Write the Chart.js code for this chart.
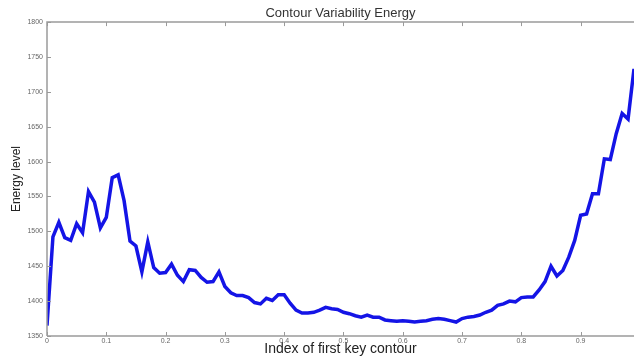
<!DOCTYPE html>
<html>
<head>
<meta charset="utf-8">
<script src="https://cdn.jsdelivr.net/npm/chart.js@4/dist/chart.umd.min.js"></script>
<style>
  html, body { margin: 0; padding: 0; background: #fff; }
  #wrap { width: 634px; height: 356px; }
</style>
</head>
<body>
<div id="wrap"><canvas id="energyChart" width="634" height="356"></canvas></div>
<script>
// Index of first key contour (x) and energy level (y)
let contourIndex = [
    0.00, 0.01, 0.02, 0.03, 0.04, 0.05, 0.06, 0.07, 0.08, 0.09,
    0.10, 0.11, 0.12, 0.13, 0.14, 0.15, 0.16, 0.17, 0.18, 0.19,
    0.20, 0.21, 0.22, 0.23, 0.24, 0.25, 0.26, 0.27, 0.28, 0.29,
    0.30, 0.31, 0.32, 0.33, 0.34, 0.35, 0.36, 0.37, 0.38, 0.39,
    0.40, 0.41, 0.42, 0.43, 0.44, 0.45, 0.46, 0.47, 0.48, 0.49,
    0.50, 0.51, 0.52, 0.53, 0.54, 0.55, 0.56, 0.57, 0.58, 0.59,
    0.60, 0.61, 0.62, 0.63, 0.64, 0.65, 0.66, 0.67, 0.68, 0.69,
    0.70, 0.71, 0.72, 0.73, 0.74, 0.75, 0.76, 0.77, 0.78, 0.79,
    0.80, 0.81, 0.82, 0.83, 0.84, 0.85, 0.86, 0.87, 0.88, 0.89,
    0.90, 0.91, 0.92, 0.93, 0.94, 0.95, 0.96, 0.97, 0.98, 0.99
];
let energyLevel = [
    1365, 1492, 1513, 1491, 1487, 1511, 1498, 1557, 1542, 1505,
    1520, 1577, 1581, 1544, 1486, 1479, 1442, 1485, 1448, 1440,
    1441, 1453, 1437, 1428, 1445, 1444, 1434, 1427, 1428, 1442,
    1421, 1412, 1408, 1408, 1405, 1398, 1396, 1404, 1401, 1409,
    1409, 1397, 1387, 1383, 1383, 1384, 1387, 1391, 1389, 1388,
    1384, 1382, 1379, 1377, 1380, 1377, 1377, 1373, 1372, 1371,
    1372, 1371, 1370, 1371, 1372, 1374, 1375, 1374, 1372, 1370,
    1375, 1377, 1378, 1380, 1384, 1387, 1394, 1396, 1400, 1399,
    1405, 1406, 1406, 1416, 1428, 1450, 1436, 1444, 1463, 1487,
    1523, 1525, 1554, 1554, 1604, 1603, 1640, 1669, 1661, 1733
];
let xTickValues = [0, 0.1, 0.2, 0.3, 0.4, 0.5, 0.6, 0.7, 0.8, 0.9];
let yTickValues = [1350, 1400, 1450, 1500, 1550, 1600, 1650, 1700, 1750, 1800];

let axisColor = '#9a9a9a';

// MATLAB style box with inward tick marks
let inwardTicks = {
    id: 'inwardTicks',
    afterDraw(chart) {
        let ctx = chart.ctx;
        let area = chart.chartArea;
        let xs = chart.scales.x;
        let ys = chart.scales.y;
        ctx.save();
        ctx.strokeStyle = axisColor;
        ctx.lineWidth = 1.5;
        ctx.beginPath();
        ctx.moveTo(area.left, area.bottom);
        ctx.lineTo(area.left, area.top);
        ctx.lineTo(area.right, area.top);
        ctx.moveTo(area.left, area.bottom);
        ctx.lineTo(area.right, area.bottom);
        ctx.stroke();
        ctx.lineWidth = 1;
        ctx.beginPath();
        xTickValues.forEach(v => {
            let px = Math.round(xs.getPixelForValue(v)) + 0.5;
            ctx.moveTo(px, area.bottom);
            ctx.lineTo(px, area.bottom - 4);
            ctx.moveTo(px, area.top);
            ctx.lineTo(px, area.top + 4);
        });
        yTickValues.forEach(v => {
            let py = Math.round(ys.getPixelForValue(v)) + 0.5;
            ctx.moveTo(area.left, py);
            ctx.lineTo(area.left + 4, py);
        });
        ctx.stroke();
        ctx.restore();
    }
};

let chartData = {
    type: 'line',
    data: {
        datasets: [
            {
                label: 'Energy',
                data: contourIndex.map((x, i) => ({ x: x, y: energyLevel[i] })),
                borderColor: '#1414e6',
                borderWidth: 3.5,
                pointRadius: 0,
                tension: 0,
                fill: false
            }
        ]
    },
    options: {
        responsive: false,
        animation: false,
        layout: { padding: 0 },
        plugins: {
            legend: { display: false },
            tooltip: { enabled: false },
            title: {
                display: true,
                fullSize: false,
                text: 'Contour Variability Energy',
                color: '#333',
                font: { family: 'Liberation Sans', size: 13, weight: 'normal' },
                padding: { top: 6, bottom: 0.5 }
            }
        },
        scales: {
            x: {
                type: 'linear',
                min: 0,
                max: 0.99,
                afterBuildTicks: s => { s.ticks = xTickValues.map(v => ({ value: v })); },
                afterFit: s => { s.height = 20; },
                grid: { display: false, drawTicks: false },
                border: { display: false },
                ticks: {
                    padding: 1,
                    color: '#666',
                    font: { family: 'Liberation Sans', size: 7 },
                    maxRotation: 0,
                    callback: v => String(v)
                },
                title: {
                    display: true,
                    text: 'Index of first key contour',
                    color: '#222',
                    font: { family: 'Liberation Sans', size: 14, lineHeight: 1 },
                    padding: { top: 0, bottom: 0 }
                }
            },
            y: {
                min: 1350,
                max: 1800,
                afterBuildTicks: s => { s.ticks = yTickValues.map(v => ({ value: v })); },
                afterFit: s => { s.width = 47; },
                grid: { display: false, drawTicks: false },
                border: { display: false },
                ticks: {
                    padding: 4,
                    color: '#666',
                    font: { family: 'Liberation Sans', size: 7 },
                    callback: v => String(v)
                },
                title: {
                    display: true,
                    text: 'Energy level',
                    color: '#222',
                    font: { family: 'Liberation Sans', size: 12 },
                    padding: { top: 9, bottom: 0 }
                }
            }
        }
    },
    plugins: [inwardTicks]
};

let ctx = document.getElementById('energyChart').getContext('2d');
let energyChart = new Chart(ctx, chartData);
</script>
</body>
</html>
